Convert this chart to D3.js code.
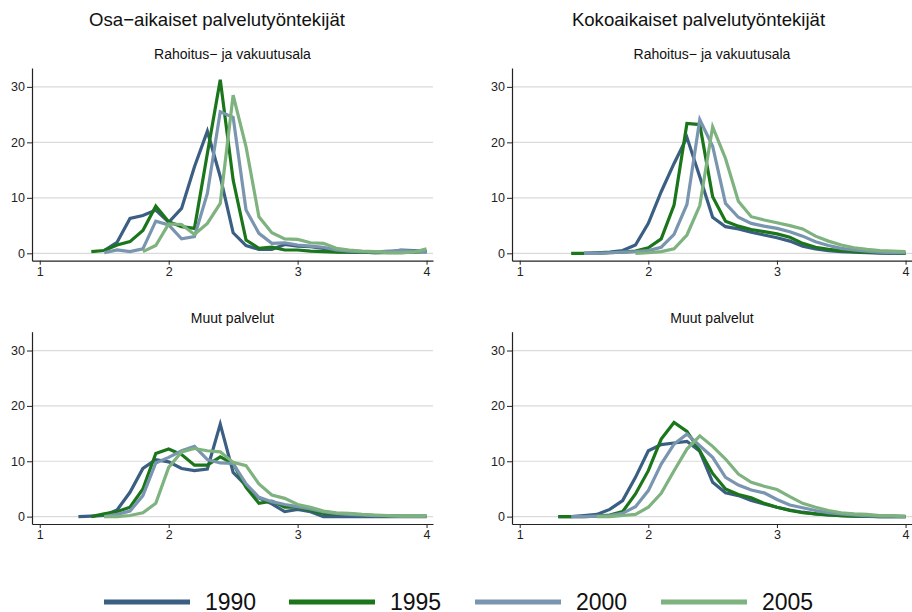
<!DOCTYPE html>
<head>
  <meta charset="utf-8">
  <script src="https://cdn.jsdelivr.net/npm/d3@7"></script>
  <style>
    body { margin:0; background:#fff; }
    text { font-family: "Liberation Sans", Arial, sans-serif; }
  </style>
</head>
<body>
<script>
  // x grid (wage ratio) shared by all series
  var xs = [1.3,1.4,1.5,1.6,1.7,1.8,1.9,2.0,2.1,2.2,2.3,2.4,2.5,2.6,2.7,2.8,2.9,3.0,3.1,3.2,3.3,3.4,3.5,3.6,3.7,3.8,3.9,4.0];

  var years = ["1990", "1995", "2000", "2005"];
  var colors = ["#3b5e83", "#1b761b", "#7a95b0", "#7eb27e"];

  var xTicks = [1, 2, 3, 4];
  var yTicks = [0, 10, 20, 30];

  var columnTitles = ["Osa\u2212aikaiset palvelutyöntekijät", "Kokoaikaiset palvelutyöntekijät"];
  var rowTitles = ["Rahoitus\u2212 ja vakuutusala", "Muut palvelut"];

  // osa-aikaiset, rahoitus- ja vakuutusala
  var osaRah1990 = [null,null,0.5,2.0,6.3,6.8,7.8,5.6,8.1,15.6,22.0,13.8,3.7,1.4,0.7,0.7,1.6,1.3,1.2,0.9,0.3,0.2,0.2,0.1,0.2,0.6,0.5,0.3];
  var osaRah1995 = [null,0.3,0.5,1.5,2.1,4.1,8.5,5.7,4.8,4.5,18.0,31.3,13.2,2.4,0.9,1.1,0.6,0.6,0.4,0.3,0.2,0.2,0.2,0.1,0.1,0.1,0.2,0.3];
  var osaRah2000 = [null,null,0.1,0.6,0.3,0.8,5.8,5.1,2.6,3.0,10.8,25.5,24.5,7.8,3.6,1.8,1.9,1.5,1.3,1.1,0.6,0.4,0.3,0.2,0.4,0.5,0.4,0.2];
  var osaRah2005 = [null,null,null,null,null,0.3,1.4,5.3,5.2,3.4,5.4,9.0,28.5,19.2,6.6,3.7,2.6,2.5,1.9,1.8,0.9,0.6,0.4,0.3,0.1,0.1,0.2,0.8];

  // kokoaikaiset, rahoitus- ja vakuutusala
  var kokoRah1990 = [null,null,0.0,0.1,0.2,0.5,1.5,5.4,11.1,16.2,20.9,13.8,6.5,4.8,4.4,3.8,3.3,2.8,2.2,1.3,0.8,0.5,0.3,0.2,0.1,0.05,0.0,0.0];
  var kokoRah1995 = [null,0.0,0.0,0.0,0.1,0.2,0.4,1.0,2.6,8.7,23.4,23.2,10.2,5.8,4.9,4.3,3.9,3.5,2.9,1.8,1.1,0.7,0.5,0.3,0.2,0.1,0.1,0.0];
  var kokoRah2000 = [null,null,0.0,0.0,0.1,0.2,0.3,0.5,1.1,3.4,8.8,24.1,19.3,9.0,6.5,5.4,4.9,4.5,3.9,3.1,2.1,1.4,0.9,0.6,0.4,0.2,0.1,0.1];
  var kokoRah2005 = [null,null,null,null,null,null,0.0,0.1,0.3,0.8,3.3,8.6,22.8,17.1,9.4,6.6,6.0,5.5,5.0,4.4,3.1,2.2,1.5,1.0,0.7,0.5,0.4,0.3];

  // osa-aikaiset, muut palvelut
  var osaMuut1990 = [0.0,0.1,0.2,1.2,4.4,8.7,10.3,9.9,8.7,8.3,8.6,16.7,8.0,5.6,3.4,2.3,0.9,1.3,0.9,0.0,0.0,0.0,0.0,0.0,0.0,0.0,0.0,0.0];
  var osaMuut1995 = [null,0.0,0.5,0.9,1.7,5.0,11.4,12.2,11.2,9.3,9.3,10.8,9.6,5.3,2.4,2.8,1.7,1.7,1.1,0.6,0.5,0.5,0.3,0.2,0.2,0.1,0.1,0.1];
  var osaMuut2000 = [null,null,0.0,0.4,1.0,3.8,9.7,10.7,11.9,12.7,10.3,9.7,9.6,5.9,3.5,2.7,2.2,1.8,1.4,0.9,0.6,0.4,0.3,0.2,0.2,0.1,0.1,0.1];
  var osaMuut2005 = [null,null,0.0,0.0,0.2,0.7,2.4,8.9,11.7,12.3,11.9,11.7,9.8,9.2,5.9,3.9,3.3,2.2,1.7,1.0,0.7,0.6,0.4,0.3,0.2,0.1,0.1,0.1];

  // kokoaikaiset, muut palvelut
  var kokoMuut1990 = [0.0,0.0,0.2,0.4,1.3,2.9,7.1,11.9,13.0,13.3,13.6,11.8,6.2,4.3,3.8,2.9,2.3,1.7,1.2,0.8,0.5,0.3,0.2,0.1,0.05,0.0,0.0,0.0];
  var kokoMuut1995 = [0.0,0.0,0.0,0.1,0.3,0.9,4.1,8.3,14.0,17.0,15.4,11.9,7.8,5.0,4.0,3.4,2.4,1.7,1.1,0.7,0.5,0.3,0.2,0.1,0.1,0.0,0.0,0.0];
  var kokoMuut2000 = [null,0.0,0.0,0.1,0.2,0.6,1.8,4.7,9.5,13.1,14.9,12.8,10.7,7.1,5.7,4.8,4.3,3.1,2.1,1.6,1.1,0.7,0.5,0.3,0.2,0.1,0.1,0.0];
  var kokoMuut2005 = [null,null,null,0.0,0.0,0.2,0.4,1.7,4.2,8.3,12.2,14.6,12.7,10.4,7.7,6.2,5.5,4.9,3.6,2.4,1.7,1.1,0.7,0.5,0.4,0.2,0.2,0.1];

  var panels = [
    { col: 0, row: 0, series: [osaRah1990, osaRah1995, osaRah2000, osaRah2005] },
    { col: 1, row: 0, series: [kokoRah1990, kokoRah1995, kokoRah2000, kokoRah2005] },
    { col: 0, row: 1, series: [osaMuut1990, osaMuut1995, osaMuut2000, osaMuut2005] },
    { col: 1, row: 1, series: [kokoMuut1990, kokoMuut1995, kokoMuut2000, kokoMuut2005] }
  ];

  var width = 912, height = 612;
  var colX = [[32, 433], [512, 912]];
  var rowY = [[260.7, 68], [524, 331.7]];

  var svg = d3.select("body").append("svg")
    .attr("width", width)
    .attr("height", height);

  // column titles
  var titleX = [217, 698.5];
  svg.selectAll(".coltitle")
    .data(columnTitles)
    .enter().append("text")
    .attr("x", function(d, i) { return titleX[i]; })
    .attr("y", 26)
    .attr("text-anchor", "middle")
    .style("font-size", "18.6px")
    .style("fill", "#111")
    .text(function(d) { return d; });

  panels.forEach(function(p) {
    var x = d3.scaleLinear().domain([0.94, 4.05]).range(colX[p.col]);
    var y = d3.scaleLinear().domain([-1.33, 33.4]).range(rowY[p.row]);
    var g = svg.append("g");
    var x0 = colX[p.col][0], x1 = colX[p.col][1];
    var yb = rowY[p.row][0], yt = rowY[p.row][1];

    // subtitle
    g.append("text")
      .attr("x", (x0 + x1) / 2)
      .attr("y", yt - 8.8)
      .attr("text-anchor", "middle")
      .style("font-size", "14px")
      .style("fill", "#111")
      .text(rowTitles[p.row]);

    // gridlines
    g.selectAll(".grid")
      .data(yTicks)
      .enter().append("line")
      .attr("x1", x0).attr("x2", x1)
      .attr("y1", function(d) { return y(d); })
      .attr("y2", function(d) { return y(d); })
      .style("stroke", "#dadada")
      .style("stroke-width", 1.2);

    // axes
    var yAxis = d3.axisLeft(y).tickValues(yTicks).tickSize(5).tickSizeOuter(0);
    var xAxis = d3.axisBottom(x).tickValues(xTicks).tickSize(4).tickSizeOuter(0).tickFormat(d3.format("d"));

    var ya = g.append("g").attr("transform", "translate(" + x0 + ",0)").call(yAxis);
    var xa = g.append("g").attr("transform", "translate(0," + yb + ")").call(xAxis);
    [ya, xa].forEach(function(a) {
      a.select(".domain").style("stroke", "#222").style("stroke-width", 1.2);
      a.selectAll(".tick line").style("stroke", "#222");
      a.selectAll(".tick text")
        .style("font-family", "Liberation Sans, Arial, sans-serif")
        .style("font-size", "12.5px")
        .style("fill", "#222");
    });
    ya.selectAll(".tick text").attr("x", -7);
    xa.selectAll(".tick text").attr("y", 6);

    // series lines
    var line = d3.line()
      .defined(function(d) { return d != null; })
      .x(function(d, i) { return x(xs[i]); })
      .y(function(d) { return y(d); });

    p.series.forEach(function(s, k) {
      g.append("path")
        .datum(s)
        .attr("d", line)
        .style("fill", "none")
        .style("stroke", colors[k])
        .style("stroke-width", 3.2);
    });
  });

  // legend
  var legX = [104, 289, 475, 661];
  var leg = svg.selectAll(".leg")
    .data(years)
    .enter().append("g")
    .attr("transform", function(d, i) { return "translate(" + legX[i] + ",602)"; });
  leg.append("line")
    .attr("x1", 0).attr("x2", 86)
    .style("stroke", function(d, i) { return colors[i]; })
    .style("stroke-width", 5);
  leg.append("text")
    .attr("x", 101)
    .attr("y", 8)
    .style("font-size", "23px")
    .style("fill", "#111")
    .text(function(d) { return d; });
</script>
</body>
